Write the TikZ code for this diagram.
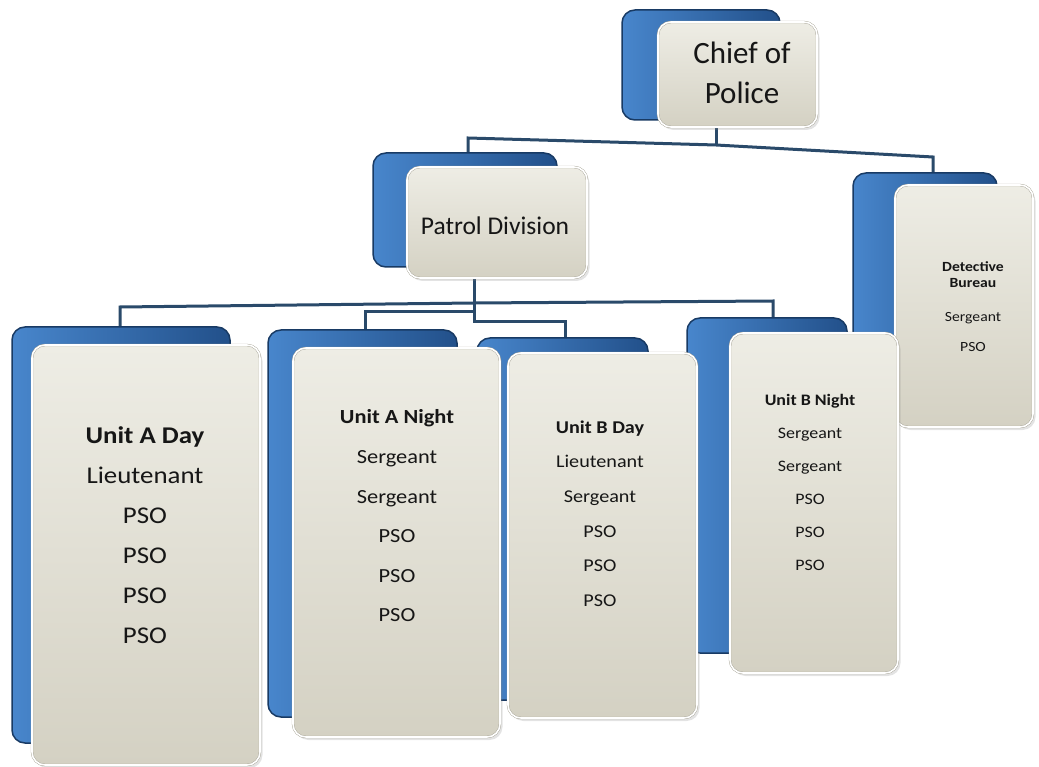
\documentclass[tikz,border=0pt]{standalone}
\usepackage{fontspec}
\setmainfont{Carlito}
\newfontfamily\wf[FakeStretch=1.12]{Carlito}
\usetikzlibrary{shadows}
\pgfdeclarelayer{bg}
\pgfsetlayers{bg,main}
\definecolor{bluelight}{RGB}{72,134,204}
\definecolor{bluedark}{RGB}{34,80,138}
\definecolor{blueedge}{RGB}{24,58,100}
\definecolor{cardtop}{RGB}{238,237,229}
\definecolor{cardbot}{RGB}{212,209,195}
\definecolor{cardedge}{RGB}{165,162,148}
\definecolor{connc}{RGB}{42,74,106}
\definecolor{txtc}{RGB}{22,22,22}
\tikzset{
  back/.style={rounded corners=13pt, draw=blueedge, line width=1.5pt,
    left color=bluelight, right color=bluedark, inner sep=0pt, outer sep=0pt},
  card/.style={rounded corners=13pt, draw=cardedge, double=white, double distance=1.6pt,
    top color=cardtop, bottom color=cardbot, inner sep=0pt, outer sep=0pt,
    drop shadow={opacity=0.22, shadow xshift=2.5pt, shadow yshift=-3pt}},
  txt/.style={align=center, text=txtc, inner sep=0pt},
  conn/.style={draw=connc, line width=3pt}
}
\begin{document}
\begin{tikzpicture}[x=1pt,y=-1pt]
\useasboundingbox (0,0) rectangle (1039,767);
% blue back plates
\node[back, minimum width=158pt, minimum height=110pt] (chiefb) at (701,65) {};
\node[back, minimum width=184pt, minimum height=114pt] (patrolb) at (465,210) {};
\node[back, minimum width=144pt, minimum height=230pt] (detb) at (925,288) {};
\node[back, minimum width=218pt, minimum height=416pt] (adb) at (121,535) {};
\node[back, minimum width=189pt, minimum height=387pt] (anb) at (362.5,523.5) {};
\node[back, minimum width=171pt, minimum height=362pt] (bdb) at (562.5,519) {};
\node[back, minimum width=160pt, minimum height=335pt] (bnb) at (767,485.5) {};
% front cards
\node[card, minimum width=159pt, minimum height=105pt] (chiefc) at (737.5,74.5) {};
\node[card, minimum width=180pt, minimum height=111pt] (patrolc) at (497,222.5) {};
\node[card, minimum width=138pt, minimum height=242pt] (detc) at (964,306) {};
\node[card, minimum width=228pt, minimum height=420pt] (adc) at (146,555) {};
\node[card, minimum width=207pt, minimum height=389pt] (anc) at (396.5,542.5) {};
\node[card, minimum width=189pt, minimum height=365pt] (bdc) at (602.5,535.5) {};
\node[card, minimum width=168pt, minimum height=340pt] (bnc) at (814,503) {};
% texts
\node[txt, font=\fontsize{31}{40}\selectfont] (chieft) at (742,73) {Chief of\\Police};
\node[txt, font=\fontsize{25.5}{30}\selectfont] (patrolt) at (495,226) {Patrol Division};
\node[txt, font=\wf\fontsize{14}{16}\selectfont] (dett) at (973,307)
  {\textbf{Detective}\\\textbf{Bureau}\\[18pt]Sergeant\\[14pt]PSO};
\node[txt, font=\wf\fontsize{24}{40}\selectfont] (adt) at (145,535.5)
  {\textbf{Unit A Day}\\Lieutenant\\PSO\\PSO\\PSO\\PSO};
\node[txt, font=\wf\fontsize{20}{39.6}\selectfont] (ant) at (397,516)
  {\textbf{Unit A Night}\\Sergeant\\Sergeant\\PSO\\PSO\\PSO};
\node[txt, font=\wf\fontsize{18}{34.6}\selectfont] (bdt) at (600,513.5)
  {\textbf{Unit B Day}\\Lieutenant\\Sergeant\\PSO\\PSO\\PSO};
\node[txt, font=\wf\fontsize{16}{33}\selectfont] (bnt) at (810,482.5)
  {\textbf{Unit B Night}\\Sergeant\\Sergeant\\PSO\\PSO\\PSO};
% connectors
\coordinate (c1) at (716,145);
\coordinate (c2) at (468,138);
\coordinate (c3) at (933,157);
\coordinate (p0) at (474,303);
\coordinate (pL) at (120,307);
\coordinate (pR) at (773,301);
\coordinate (p1) at (474,312);
\coordinate (p1L) at (365,312);
\coordinate (p2) at (474,322);
\coordinate (p2R) at (565,322);
\begin{pgfonlayer}{bg}
\draw[conn] (chiefc.south -| c1) -- (c1);
\draw[conn] (patrolb.north -| c2) -- (c2) -- (c1) -- (c3) -- (detb.north -| c3);
\draw[conn] (patrolc.south -| p0) -- (p2) -- (p2R) -- (bdb.north -| p2R);
\draw[conn] (adb.north -| pL) -- (pL) -- (p0) -- (pR) -- (bnb.north -| pR);
\draw[conn] (p1) -- (p1L) -- (anb.north -| p1L);
\end{pgfonlayer}
\end{tikzpicture}
\end{document}
